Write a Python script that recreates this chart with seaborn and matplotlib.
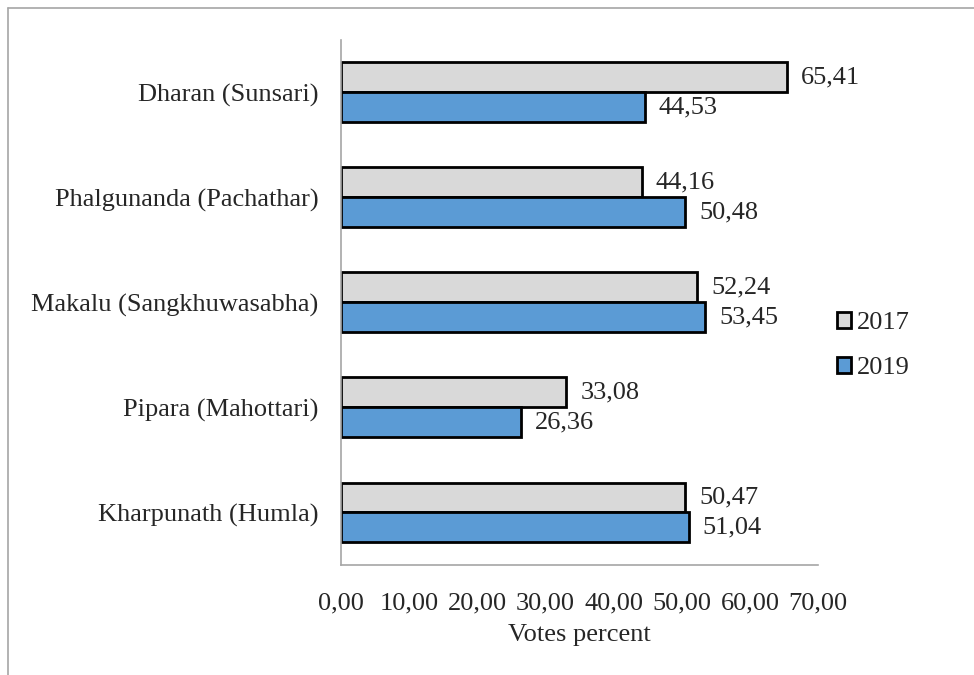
import matplotlib
matplotlib.use("Agg")
import matplotlib.pyplot as plt
import seaborn as sns
import pandas as pd
from matplotlib.lines import Line2D
from matplotlib.patches import Patch

categories = ["Dharan (Sunsari)", "Phalgunanda (Pachathar)", "Makalu (Sangkhuwasabha)",
              "Pipara (Mahottari)", "Kharpunath (Humla)"]
years = ["2017", "2019"]
values_2017 = [65.41, 44.16, 52.24, 33.08, 50.47]
values_2019 = [44.53, 50.48, 53.45, 26.36, 51.04]
x_ticks = [0, 10, 20, 30, 40, 50, 60, 70]

colors = {"2017": "#D9D9D9", "2019": "#5B9BD5"}

df = pd.DataFrame({
    "Constituency": categories * 2,
    "Year": ["2017"] * len(categories) + ["2019"] * len(categories),
    "Votes": values_2017 + values_2019,
})

sns.set_style("white")
plt.rcParams["font.family"] = ["Liberation Serif", "DejaVu Serif"]
FS = 19

fig = plt.figure(figsize=(9.74, 6.75), dpi=100)
ax = fig.add_axes([0.350, 0.163, 0.490, 0.778])

sns.barplot(data=df, y="Constituency", x="Votes", hue="Year", order=categories,
            hue_order=years, palette=colors, orient="h", width=0.57,
            edgecolor="black", linewidth=2, saturation=1, legend=False, ax=ax)

for cont, yr in zip(ax.containers, years):
    vals = values_2017 if yr == "2017" else values_2019
    ax.bar_label(cont, labels=[f"{v:.2f}".replace(".", ",") for v in vals],
                 padding=10, fontsize=FS)

ax.set_xlim(0, 70)
ax.set_ylim(4.5, -0.5)
ax.set_xticks(x_ticks)
ax.set_xticklabels([f"{v:.2f}".replace(".", ",") for v in x_ticks], fontsize=FS)
ax.set_yticks(range(len(categories)))
ax.set_yticklabels(categories, fontsize=FS)
ax.set_yticks([i - 0.5 for i in range(len(categories) + 1)], minor=True)
ax.tick_params(axis="y", which="major", length=0, pad=16)
ax.tick_params(axis="y", which="minor", length=8, width=1, color="#A6A6A6", direction="out")
ax.tick_params(axis="x", which="major", length=8, width=1, color="#A6A6A6", direction="out", pad=12)
ax.set_xlabel("Votes percent", fontsize=FS, labelpad=7)
ax.set_ylabel("")

for s in ["top", "right"]:
    ax.spines[s].set_visible(False)
for s in ["left", "bottom"]:
    ax.spines[s].set_color("#A6A6A6")
    ax.spines[s].set_linewidth(1.2)

handles = [Patch(facecolor=colors[y], edgecolor="black", linewidth=2, label=y) for y in years]
fig.legend(handles=handles, loc="center left", bbox_to_anchor=(0.859, 0.488),
           frameon=False, fontsize=FS, handlelength=0.55, handleheight=0.55,
           handletextpad=0.2, labelspacing=0.85, borderpad=0, borderaxespad=0)

# outer frame lines
fig.add_artist(Line2D([8 / 974, 1], [1 - 8 / 675, 1 - 8 / 675], color="#A6A6A6", lw=1.2,
                      transform=fig.transFigure))
fig.add_artist(Line2D([8 / 974, 8 / 974], [0, 1 - 8 / 675], color="#A6A6A6", lw=1.2,
                      transform=fig.transFigure))

fig.savefig("out.png", dpi=100)
